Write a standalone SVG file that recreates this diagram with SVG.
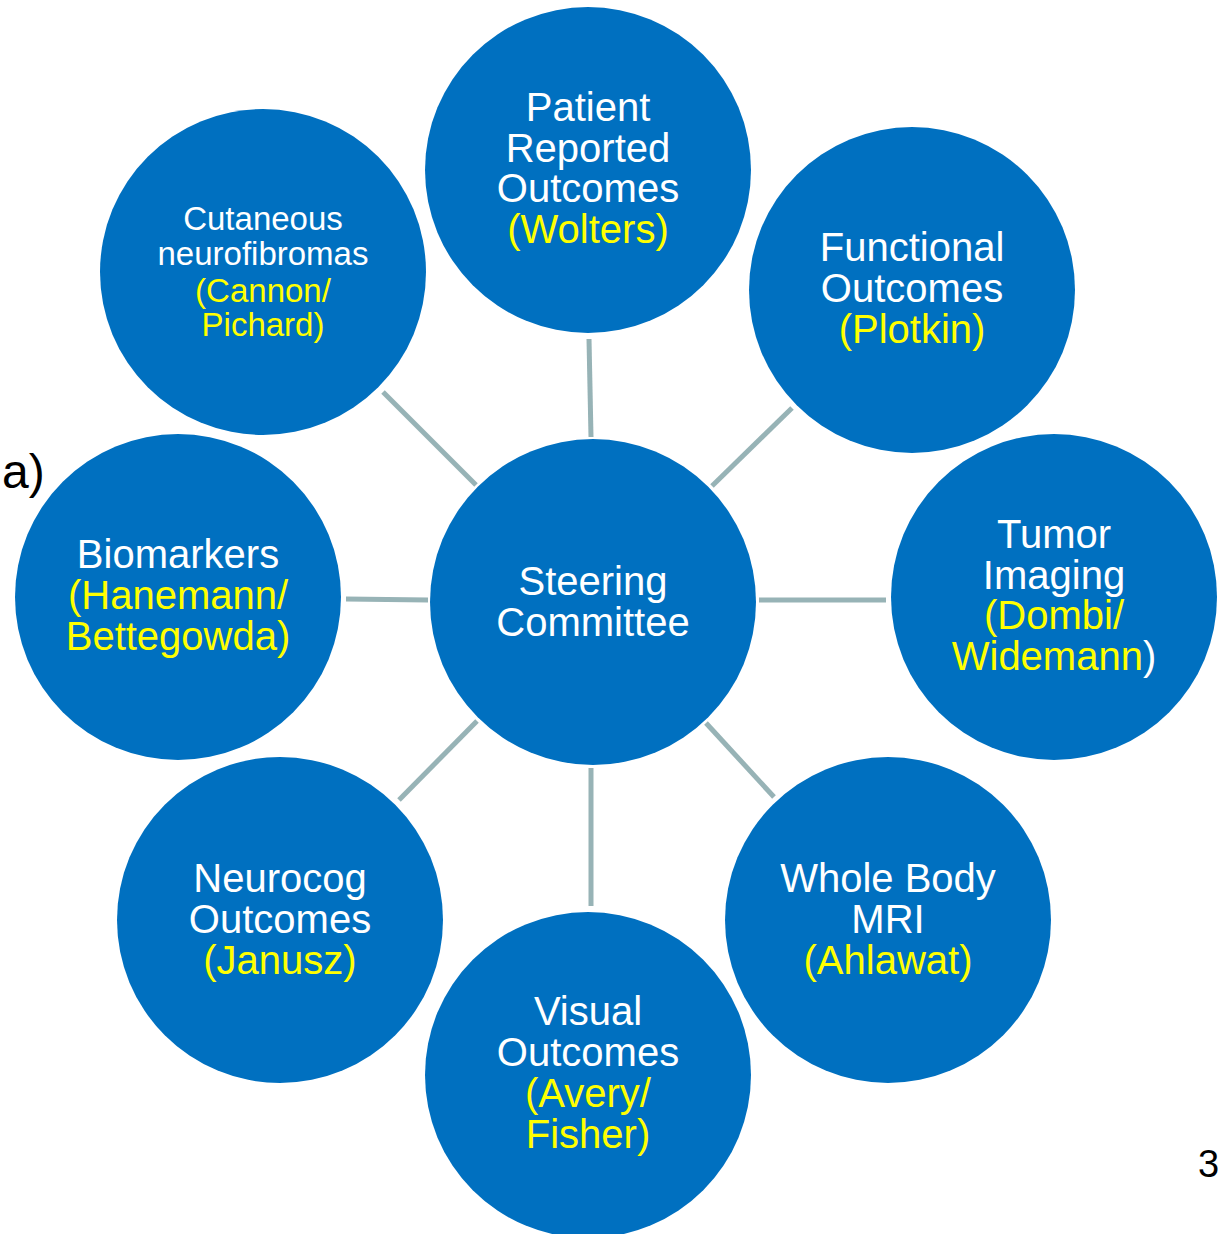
<svg xmlns="http://www.w3.org/2000/svg" width="1218" height="1234" viewBox="0 0 1218 1234">
<style>
.n{fill:#0070C0}
.t{font-family:"Liberation Sans",Arial,sans-serif;font-size:40px;fill:#FFFFFF;text-anchor:middle}
.s{font-size:33px}
.y{fill:#FFFF00}
.c line{stroke:#97B3B6;stroke-width:5}
.l{font-family:"Liberation Sans",Arial,sans-serif;fill:#000000}
</style>
<rect width="1218" height="1234" fill="#FFFFFF"/>
<g class="c" id="connectors">
<line x1="589" y1="339" x2="591" y2="437"/>
<line x1="792" y1="408" x2="712" y2="486"/>
<line x1="759" y1="600" x2="886" y2="600"/>
<line x1="706" y1="723" x2="774" y2="797"/>
<line x1="591" y1="768" x2="591" y2="906"/>
<line x1="477" y1="721" x2="399" y2="800"/>
<line x1="346" y1="599" x2="428" y2="600"/>
<line x1="383" y1="392" x2="476" y2="485"/>
</g>
<g id="steering">
<circle class="n" cx="593" cy="602" r="163"/>
<text class="t" x="593" y="595">Steering</text>
<text class="t" x="593" y="636">Committee</text>
</g>
<g id="patient">
<circle class="n" cx="588" cy="170" r="163"/>
<text class="t" x="588" y="121">Patient</text>
<text class="t" x="588" y="162">Reported</text>
<text class="t" x="588" y="202">Outcomes</text>
<text class="t y" x="588" y="243">(Wolters)</text>
</g>
<g id="functional">
<circle class="n" cx="912" cy="290" r="163"/>
<text class="t" x="912" y="261">Functional</text>
<text class="t" x="912" y="302">Outcomes</text>
<text class="t y" x="912" y="343">(Plotkin)</text>
</g>
<g id="tumor">
<circle class="n" cx="1054" cy="597" r="163"/>
<text class="t" x="1054" y="548">Tumor</text>
<text class="t" x="1054" y="589">Imaging</text>
<text class="t y" x="1054" y="629">(Dombi/</text>
<text class="t" x="1054" y="670"><tspan class="y">Widemann</tspan>)</text>
</g>
<g id="mri">
<circle class="n" cx="888" cy="920" r="163"/>
<text class="t" x="888" y="892">Whole Body</text>
<text class="t" x="888" y="933">MRI</text>
<text class="t y" x="888" y="974">(Ahlawat)</text>
</g>
<g id="visual">
<circle class="n" cx="588" cy="1075" r="163"/>
<text class="t" x="588" y="1025">Visual</text>
<text class="t" x="588" y="1066">Outcomes</text>
<text class="t y" x="588" y="1107">(Avery/</text>
<text class="t y" x="588" y="1148">Fisher)</text>
</g>
<g id="neurocog">
<circle class="n" cx="280" cy="920" r="163"/>
<text class="t" x="280" y="892">Neurocog</text>
<text class="t" x="280" y="933">Outcomes</text>
<text class="t y" x="280" y="974">(Janusz)</text>
</g>
<g id="biomarkers">
<circle class="n" cx="178" cy="597" r="163"/>
<text class="t" x="178" y="568">Biomarkers</text>
<text class="t y" x="178" y="609">(Hanemann/</text>
<text class="t y" x="178" y="650">Bettegowda)</text>
</g>
<g id="cutaneous">
<circle class="n" cx="263" cy="272" r="163"/>
<text class="t s" x="263" y="230">Cutaneous</text>
<text class="t s" x="263" y="265">neurofibromas</text>
<text class="t s y" x="263" y="302">(Cannon/</text>
<text class="t s y" x="263" y="336">Pichard)</text>
</g>
<text class="l" x="2" y="488" font-size="48">a)</text>
<text class="l" x="1198" y="1177" font-size="38">3</text>
</svg>
